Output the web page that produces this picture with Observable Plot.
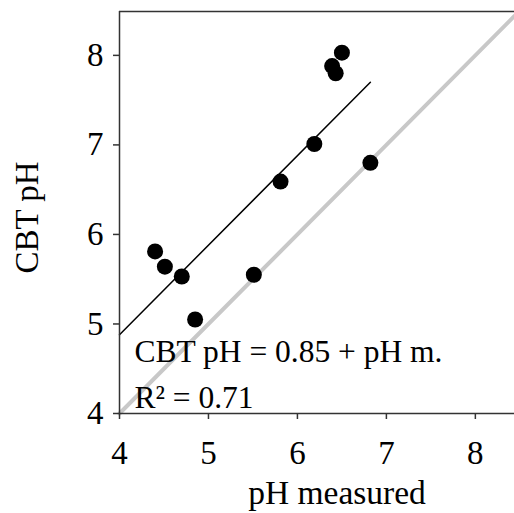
<!DOCTYPE html>
<html>
<head>
<meta charset="utf-8">
<script src="https://cdn.jsdelivr.net/npm/d3@7"></script>
<script src="https://cdn.jsdelivr.net/npm/@observablehq/plot@0.6"></script>
<style>
  html, body { margin: 0; padding: 0; background: #fff; }
</style>
</head>
<body>
<div id="chart"></div>
<script>
// Data
const phMeasured = [4.40, 4.51, 4.70, 4.85, 5.51, 5.81, 6.19, 6.39, 6.43, 6.50, 6.82];
const cbtPH      = [5.81, 5.64, 5.53, 5.05, 5.55, 6.59, 7.01, 7.88, 7.80, 8.03, 6.80];

// Regression line endpoints (CBT pH = 0.85 + pH m.)
const fitX = [4.0, 6.82];
const fitY = [4.88, 7.70];

// 1:1 reference line
const oneX = [4.0, 8.44];
const oneY = [4.0, 8.44];

const xTicks = [4, 5, 6, 7, 8];
const yTicks = [4, 5, 6, 7, 8];
const xDomain = [4, 8.44];
const yDomain = [4, 8.49];

const xLabel = "pH measured";
const yLabel = "CBT pH";
const annotation = ["CBT pH = 0.85 + pH m.", "R² = 0.71"];

const points = phMeasured.map((x, i) => ({x, y: cbtPH[i]}));
const fit = fitX.map((x, i) => ({x, y: fitY[i]}));
const one = oneX.map((x, i) => ({x, y: oneY[i]}));

const font = "Liberation Serif, Times New Roman, serif";
const axisColor = "#333";

const chart = Plot.plot({
  width: 514,
  height: 513,
  marginLeft: 119,
  marginRight: 0,
  marginTop: 11,
  marginBottom: 100,
  style: {fontFamily: font, background: "#fff", color: "#000"},
  x: {domain: xDomain},
  y: {domain: yDomain},
  marks: [
    Plot.line(one, {x: "x", y: "y", stroke: "#c8c8c8", strokeWidth: 4}),
    Plot.line(fit, {x: "x", y: "y", stroke: "#000", strokeWidth: 1.5}),
    Plot.dot(points, {x: "x", y: "y", r: 8, fill: "#000", stroke: "none"}),
    Plot.text([annotation.join("\n")], {
      frameAnchor: "bottom-left", textAnchor: "start", lineAnchor: "bottom",
      dx: 15, dy: -6, fontSize: 31.5, lineHeight: 1.43, fill: "#000"
    }),
    Plot.ruleY([yDomain[1]], {stroke: axisColor, strokeWidth: 1.5}),
    Plot.ruleY([yDomain[0]], {stroke: axisColor, strokeWidth: 1.5}),
    Plot.ruleX([xDomain[0]], {stroke: axisColor, strokeWidth: 1.5}),
    Plot.axisX({
      ticks: xTicks, tickFormat: d => String(d), tickSize: 6, tickPadding: 21,
      fontSize: 33, label: null, stroke: axisColor, strokeWidth: 1.5, fill: "#000"
    }),
    Plot.axisY({
      ticks: yTicks, tickFormat: d => String(d), tickSize: 6, tickPadding: 10,
      fontSize: 33, label: null, stroke: axisColor, strokeWidth: 1.5, fill: "#000"
    }),
    Plot.text([xLabel], {
      frameAnchor: "bottom", textAnchor: "middle", lineAnchor: "bottom",
      dx: 20, dy: 90, fontSize: 33.5, fill: "#000"
    }),
    Plot.text([yLabel], {
      frameAnchor: "left", textAnchor: "middle", lineAnchor: "bottom",
      rotate: -90, dx: -82, dy: 5, fontSize: 33, fill: "#000"
    })
  ]
});

document.getElementById("chart").appendChild(chart);
</script>
</body>
</html>
